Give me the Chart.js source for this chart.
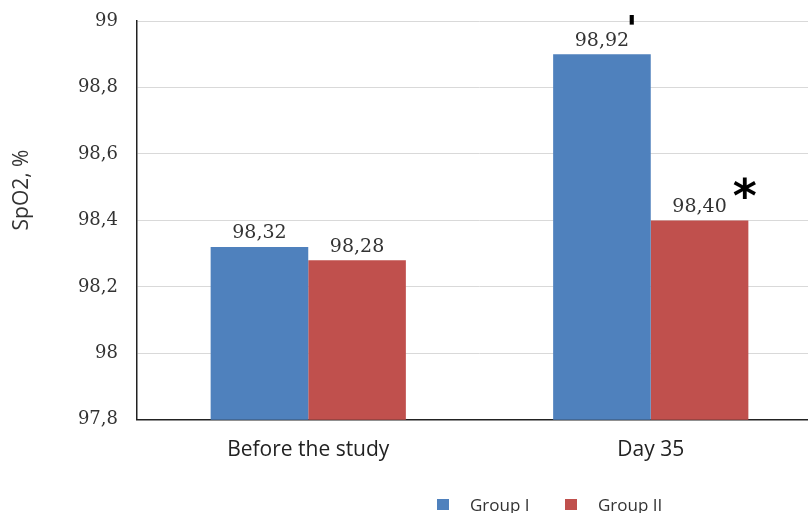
<!DOCTYPE html>
<html>
<head>
<meta charset="utf-8">
<script src="https://cdn.jsdelivr.net/npm/chart.js@4"></script>
<style>
  html, body { margin: 0; padding: 0; background: #fff; overflow: hidden; }
  #wrap { width: 830px; height: 513px; }
</style>
</head>
<body>
<div id="wrap"><canvas id="spo2Chart" width="830" height="513"></canvas></div>
<script>
// データ
const categories = ["Before the study", "Day 35"];
const groupI = [98.32, 98.9];
const groupII = [98.28, 98.40];
const groupILabels = ["98,32", "98,92"];
const groupIILabels = ["98,28", "98,40"];
const groupIMarks = ["", "'"];
const groupIIMarks = ["", "*"];
const seriesNames = ["Group I", "Group II"];
const seriesColors = ["#4f81bd", "#c0504d"];

const fmt = (v) => String(Number(v.toFixed(1))).replace(".", ",");

// 棒の上の数値ラベル＋記号
const valueLabels = {
  id: "valueLabels",
  afterDatasetsDraw(chart) {
    const ctx = chart.ctx;
    const texts = [groupILabels, groupIILabels];
    const marks = [groupIMarks, groupIIMarks];
    chart.data.datasets.forEach((ds, di) => {
      chart.getDatasetMeta(di).data.forEach((bar, i) => {
        ctx.save();
        ctx.font = "19px 'DejaVu Serif'";
        ctx.fillStyle = "#333";
        ctx.textAlign = "center";
        ctx.textBaseline = "bottom";
        ctx.fillText(texts[di][i], bar.x, bar.y - 4);
        const w = ctx.measureText(texts[di][i]).width;
        if (marks[di][i] === "'") {
          ctx.font = "bold 36px 'DejaVu Serif'";
          ctx.fillStyle = "#000";
          ctx.textAlign = "left";
          ctx.fillText("'", bar.x + w / 2 - 3, bar.y - 5);
        } else if (marks[di][i] === "*") {
          ctx.font = "bold 46px 'DejaVu Sans'";
          ctx.fillStyle = "#000";
          ctx.textAlign = "left";
          ctx.fillText("*", bar.x + w / 2 + 6, bar.y + 3);
        }
        ctx.restore();
      });
    });
  },
};

// 縦軸タイトルと凡例
const extras = {
  id: "extras",
  afterDraw(chart) {
    const ctx = chart.ctx;
    ctx.save();
    ctx.translate(22, 190);
    ctx.rotate(-Math.PI / 2);
    ctx.font = "21px 'Open Sans'";
    ctx.fillStyle = "#333";
    ctx.textAlign = "center";
    ctx.textBaseline = "middle";
    ctx.fillText("SpO2, %", 0, 0);
    ctx.restore();

    ctx.save();
    ctx.font = "17px 'Open Sans'";
    ctx.textBaseline = "middle";
    const starts = [437, 565];
    seriesNames.forEach((name, i) => {
      ctx.fillStyle = seriesColors[i];
      ctx.fillRect(starts[i], 499, 12, 11);
      ctx.fillStyle = "#333";
      ctx.fillText(name, starts[i] + 33, 506);
    });
    ctx.restore();
  },
};

new Chart(document.getElementById("spo2Chart"), {
  type: "bar",
  data: {
    labels: categories,
    datasets: [
      { label: seriesNames[0], data: groupI, backgroundColor: seriesColors[0] },
      { label: seriesNames[1], data: groupII, backgroundColor: seriesColors[1] },
    ],
  },
  options: {
    responsive: false,
    animation: false,
    categoryPercentage: 0.57,
    barPercentage: 1,
    layout: { padding: { top: 21, right: 8, bottom: 32, left: 0 } },
    plugins: {
      legend: { display: false },
      tooltip: { enabled: false },
    },
    scales: {
      x: {
        grid: { display: false, drawTicks: false },
        border: { color: "#222", width: 1.5 },
        ticks: {
          padding: 18,
          color: "#222",
          font: { size: 21, family: "'Open Sans'" },
        },
      },
      y: {
        min: 97.8,
        max: 99,
        afterFit: (scale) => { scale.width = 137; },
        grid: { color: "#d9d9d9", drawTicks: false },
        border: { color: "#222", width: 1.5 },
        ticks: {
          stepSize: 0.2,
          padding: 19,
          color: "#333",
          font: { size: 18, family: "'DejaVu Serif'", lineHeight: 0.01 },
          callback: (v) => fmt(v),
        },
      },
    },
  },
  plugins: [valueLabels, extras],
});
</script>
</body>
</html>
